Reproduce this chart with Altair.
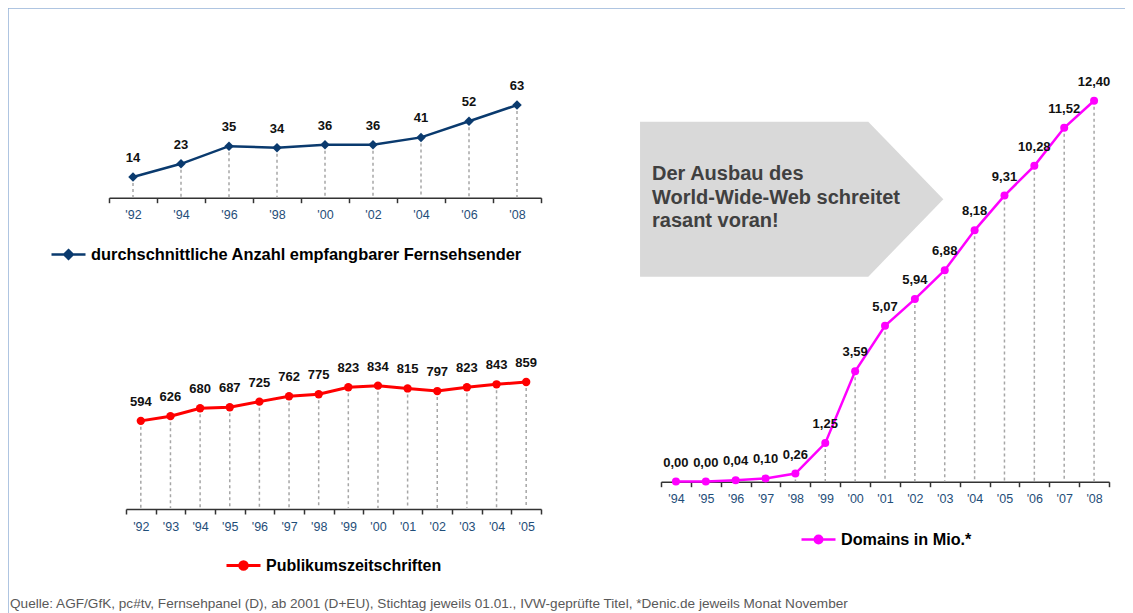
import altair as alt
import pandas as pd

FONT = "Liberation Sans, Arial, Helvetica, sans-serif"

# ---------------- data ----------------
tv_years = ["'92", "'94", "'96", "'98", "'00", "'02", "'04", "'06", "'08"]
tv_values = [14, 23, 35, 34, 36, 36, 41, 52, 63]
tv_name = "durchschnittliche Anzahl empfangbarer Fernsehsender"

mag_years = ["'92", "'93", "'94", "'95", "'96", "'97", "'98", "'99", "'00",
             "'01", "'02", "'03", "'04", "'05"]
mag_values = [594, 626, 680, 687, 725, 762, 775, 823, 834, 815, 797, 823, 843, 859]
mag_name = "Publikumszeitschriften"

dom_years = ["'94", "'95", "'96", "'97", "'98", "'99", "'00", "'01", "'02",
             "'03", "'04", "'05", "'06", "'07", "'08"]
dom_values = [0.00, 0.00, 0.04, 0.10, 0.26, 1.25, 3.59, 5.07, 5.94, 6.88,
              8.18, 9.31, 10.28, 11.52, 12.40]
dom_name = "Domains in Mio.*"

callout_lines = ["Der Ausbau des", "World-Wide-Web schreitet", "rasant voran!"]
footer = ("Quelle: AGF/GfK, pc#tv, Fernsehpanel (D), ab 2001 (D+EU), Stichtag jeweils "
          "01.01., IVW-geprüfte Titel, *Denic.de jeweils Monat November")

W, H = 1117, 605

DIAMOND_LEG = "M-1,0L1,0M0,-0.25L0.25,0L0,0.25L-0.25,0Z"
CIRCLE_LEG = "M-1,0L1,0M-0.22,0A0.22,0.22,0,1,0,0.22,0A0.22,0.22,0,1,0,-0.22,0Z"
ARROW = "M-1,-0.511L0.505,-0.511L1,0L0.505,0.511L-1,0.511Z"


def panel(years, values, labels, name, color, shape, size, sw, leg_sym,
          xrange, ydomain, yrange, axis_offset, leg_x, leg_y, leg_font):
    df = pd.DataFrame({"year": years, "value": values, "label": labels,
                       "series": [name] * len(years)})
    x = alt.X("year:O", title=None, bandPosition=0.5,
              scale=alt.Scale(type="band", domain=years, range=xrange,
                              paddingInner=0, paddingOuter=0),
              axis=alt.Axis(orient="bottom", offset=axis_offset, labelAngle=0,
                            tickBand="extent", tickSize=5, tickWidth=1.5,
                            tickColor="#333333", domainColor="#333333",
                            domainWidth=1.5, labelColor="#1f4e79",
                            labelFont=FONT, labelFontSize=12.5, labelPadding=6,
                            grid=False))
    y = alt.Y("value:Q", axis=None,
              scale=alt.Scale(domain=ydomain, range=yrange, nice=False, zero=False))
    base = alt.Chart(df)
    rules = base.mark_rule(color="#a6a6a6", strokeWidth=1.5, strokeDash=[3, 3]).encode(
        x=x, y=y, y2=alt.datum(0))
    line = base.mark_line(color=color, strokeWidth=sw).encode(x=x, y=y)
    pts = base.mark_point(filled=True, shape=shape, size=size, opacity=1).encode(
        x=x, y=y,
        color=alt.Color("series:N", scale=alt.Scale(domain=[name], range=[color]),
                        legend=alt.Legend(title=None, orient="none", legendX=leg_x,
                                          legendY=leg_y, symbolType=leg_sym,
                                          symbolSize=1156, symbolStrokeColor=color,
                                          symbolFillColor=color,
                                          symbolStrokeWidth=sw, labelFont=FONT,
                                          labelFontSize=leg_font, labelFontWeight="bold",
                                          labelColor="#000000", labelLimit=1000,
                                          labelOffset=4, padding=0)))
    txt = base.mark_text(dy=-15, baseline="alphabetic", fontSize=13,
                         fontWeight="bold", font=FONT, color="#111111").encode(
        x=x, y=y, text="label:N")
    return alt.layer(rules, line, pts, txt)


tv = panel(tv_years, tv_values, [str(v) for v in tv_values], tv_name, "#0a3a6e",
           "diamond", 90, 2.5, DIAMOND_LEG, [101, 533], [0, 70], [189.6, 86.8],
           189.7 - H, 42, 228, 16.4)
mag = panel(mag_years, mag_values, [str(v) for v in mag_values], mag_name, "#ff0000",
            "circle", 70, 3, CIRCLE_LEG, [118, 533], [0, 1000], [500, 353.3],
            501 - H, 217, 539, 16)
dom = panel(dom_years, dom_values, [f"{v:.2f}".replace(".", ",") for v in dom_values],
            dom_name, "#ff00ff", "circle", 64, 2.5, CIRCLE_LEG, [653, 1101], [0, 13],
            [473.5, 74.3], 473.7 - H, 792, 513, 16.2)

one = alt.Data(values=[{"k": 0}])
arrow = alt.Chart(one).mark_point(shape=ARROW, size=91990, filled=True,
                                  color="#d9d9d9", opacity=1, strokeWidth=0).encode(
    x=alt.value(783.7), y=alt.value(191.2))
callout = alt.Chart(one).mark_text(align="left", baseline="middle", lineBreak="\n",
                                   lineHeight=23.5, fontSize=20, fontWeight="bold",
                                   font=FONT, color="#404040").encode(
    x=alt.value(644), y=alt.value(166), text=alt.value("\n".join(callout_lines)))

chart = alt.layer(arrow, callout, tv, mag, dom).resolve_scale(
    x="independent", y="independent", color="independent"
).properties(
    width=W, height=H, padding=0,
    autosize=alt.AutoSizeParams(type="none"),
    title=alt.TitleParams(footer, orient="bottom", anchor="start", frame="group",
                          offset=-16, dx=2, fontSize=13.6, fontWeight="normal",
                          font=FONT, color="#595959"),
).configure_view(
    stroke="#95b3d7", strokeWidth=1.5, strokeDash=[W, W + H, H]
)

chart.save("out.html", embed_options={"renderer": "svg", "actions": False})
